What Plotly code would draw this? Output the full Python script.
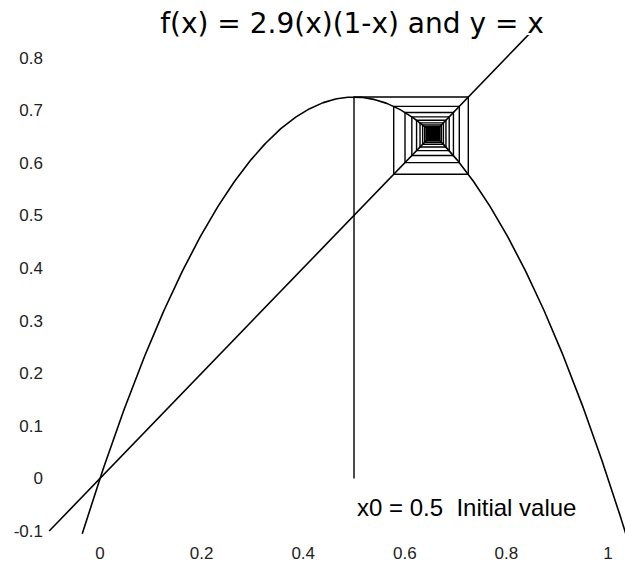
import numpy as np
import plotly.graph_objects as go

# Logistic map parameters
r = 2.9
x0 = 0.5
n_iter = 60

# Sampling range for the parabola and the diagonal
curve_x_range = [-0.035, 1.035]
diag_x_range = [-0.1, 0.86]

# Axis ticks
x_tick_vals = [0, 0.2, 0.4, 0.6, 0.8, 1.0]
x_tick_text = ["0", "0.2", "0.4", "0.6", "0.8", "1"]
y_tick_vals = [-0.1, 0, 0.1, 0.2, 0.3, 0.4, 0.5, 0.6, 0.7, 0.8]
y_tick_text = ["-0.1", "0", "0.1", "0.2", "0.3", "0.4", "0.5", "0.6", "0.7", "0.8"]


def f(x):
    return r * x * (1 - x)


xs = np.linspace(curve_x_range[0], curve_x_range[1], 400)
ys = f(xs)

# Cobweb path: start on the x-axis, go up to the curve, across to y = x, repeat
cx = [x0]
cy = [0.0]
x = x0
for _ in range(n_iter):
    y = f(x)
    cx.append(x)
    cy.append(y)
    cx.append(y)
    cy.append(y)
    x = y

line_style = dict(color="black", width=1.6)

fig = go.Figure()
fig.add_trace(go.Scatter(x=xs, y=ys, mode="lines", line=line_style, hoverinfo="skip"))
fig.add_trace(go.Scatter(x=diag_x_range, y=diag_x_range, mode="lines", line=line_style, hoverinfo="skip"))
fig.add_trace(go.Scatter(x=cx, y=cy, mode="lines", line=dict(color="black", width=1.4), hoverinfo="skip"))

fig.add_annotation(
    x=x0, y=-0.055, xref="x", yref="y",
    text="x0 = 0.5  Initial value",
    showarrow=False, xanchor="left", yanchor="middle", xshift=1,
    font=dict(family="Liberation Sans", size=24, color="black"),
)

fig.update_layout(
    width=625, height=563,
    margin=dict(l=48, r=0, t=35, b=18),
    paper_bgcolor="white", plot_bgcolor="white",
    showlegend=False,
    title=dict(
        text="f(x) = 2.9(x)(1-x) and y = x",
        x=352 / 625, xanchor="center", y=1 - 23 / 563, yanchor="middle",
        font=dict(family="DejaVu Sans", size=28, color="black"),
    ),
)
fig.update_xaxes(
    range=[-0.1024, 1.0335], showgrid=False, zeroline=False, showline=False,
    tickvals=x_tick_vals, ticktext=x_tick_text, ticks="",
    tickfont=dict(family="Liberation Sans", size=17, color="#222"),
)
fig.update_yaxes(
    range=[-0.119, 0.843], showgrid=False, zeroline=False, showline=False,
    tickvals=y_tick_vals, ticktext=y_tick_text, ticks="", ticklabelstandoff=4,
    tickfont=dict(family="Liberation Sans", size=17, color="#222"),
)

fig.write_html("out.html")
